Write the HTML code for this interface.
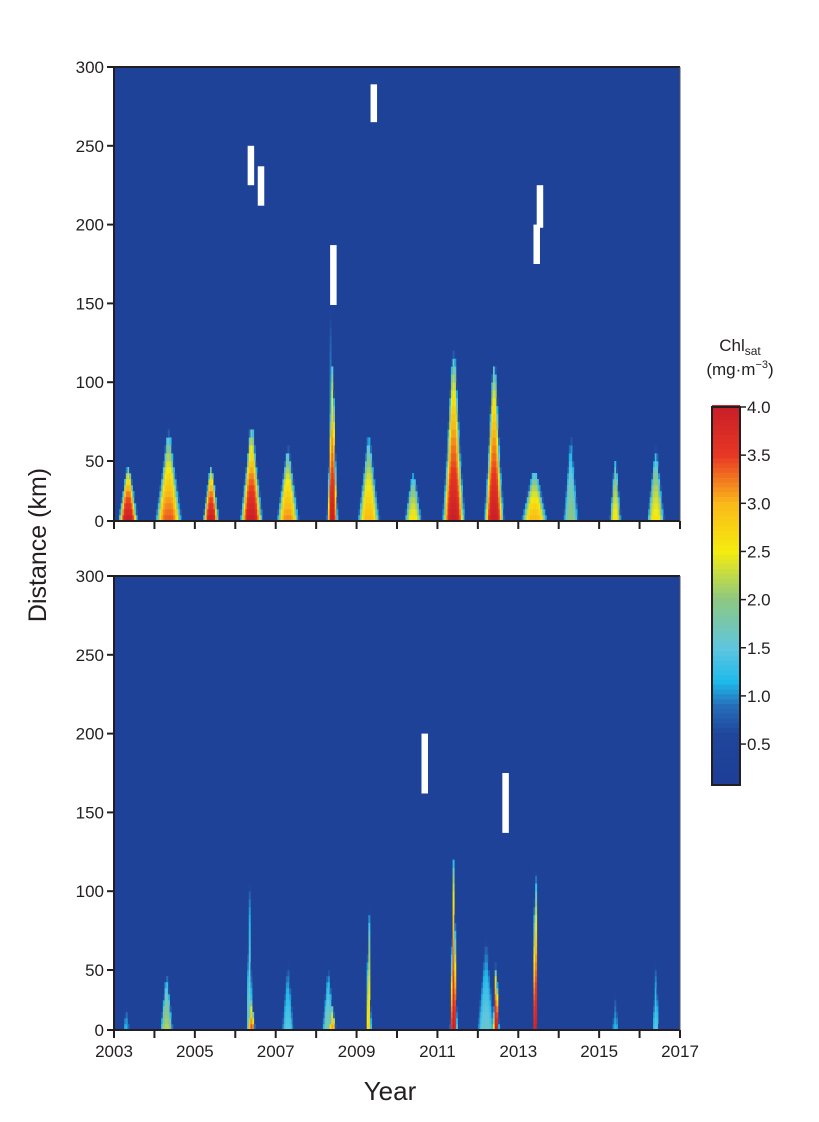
<!DOCTYPE html>
<html><head><meta charset="utf-8"><style>
body{margin:0;background:#fff;width:819px;height:1117px;overflow:hidden}
svg text{font-family:"Liberation Sans",sans-serif;fill:#231f20}
</style></head><body>
<svg id="s" width="819" height="1117"></svg>
<script>
const years=[2003,2005,2007,2009,2011,2013,2015,2017];
const distTicks=[0,50,100,150,200,250,300];
const cbTicks=[0.5,1.0,1.5,2.0,2.5,3.0,3.5,4.0];
// events: center year, max distance km, peak chl, half-width years
const topYear=[2003.35,2004.35,2005.4,2006.4,2007.3,2008.4,2008.35,2009.3,2010.4,2011.4,2012.4,2013.4,2014.3,2015.4,2016.4];
const topDist=[45,68,45,72,58,112,150,65,40,118,112,42,65,52,58];
const topPeak=[4,3.4,4,4,3.2,4,1.4,3,2.6,4,4,3,2,2.6,2.6];
const topWidth=[0.22,0.3,0.18,0.25,0.25,0.12,0.05,0.25,0.2,0.25,0.22,0.3,0.18,0.13,0.2];
const botYear=[2003.3,2004.3,2006.35,2006.4,2007.3,2008.3,2008.4,2009.3,2011.4,2012.2,2012.45,2013.42,2015.4,2016.4];
const botDist=[20,45,105,25,55,50,20,95,120,70,55,140,30,55];
const botPeak=[1.2,2.2,1.8,3.5,1.5,1.8,3.2,2.8,4,1.6,4,4,1.2,1.5];
const botWidth=[0.08,0.15,0.08,0.08,0.15,0.15,0.08,0.06,0.08,0.22,0.07,0.05,0.08,0.08];
// missing-data gaps: year, low km, high km
const topGapYear=[2006.38,2006.63,2009.42,2008.42,2013.45,2013.53];
const topGapLo=[225,212,265,149,175,198];
const topGapHi=[250,237,289,187,200,225];
const botGapYear=[2010.68,2012.68];
const botGapHi=[200,175];
const botGapLo=[162,137];

const NS="http://www.w3.org/2000/svg",svg=document.getElementById('s');
function el(t,a,p){const e=document.createElementNS(NS,t);for(const k in a)e.setAttribute(k,a[k]);(p||svg).appendChild(e);return e;}
const X0=114,X1=680;
const x=y=>X0+(y-2003)*(X1-X0)/14;
function yS(top){const b=top+454;return d=>d<50?b-d*1.2:b-60-(d-50)*394/250;}
const cmap=[[0,[30,60,150]],[0.6,[31,70,155]],[0.9,[38,110,185]],[1.15,[30,185,235]],[1.5,[95,198,222]],[2.0,[140,200,130]],[2.5,[245,235,15]],[3.0,[250,185,25]],[3.5,[232,55,37]],[4.0,[200,30,40]]];
function col(v){v=Math.max(0,Math.min(4,v));for(let i=1;i<cmap.length;i++){if(v<=cmap[i][0]){const a=cmap[i-1],b=cmap[i],f=(v-a[0])/(b[0]-a[0]);return 'rgb('+a[1].map((c,j)=>Math.round(c+(b[1][j]-c)*f)).join(',')+')';}}return 'rgb(200,30,40)';}
function panel(top,ys,ds,ps,ws,gy,glo,ghi,name,labels){
  const Y=yS(top);const g=el('g',{});
  el('rect',{x:X0,y:top,width:X1-X0,height:454,fill:col(0.35)},g);
  const dt=1/24,dd=5;
  for(let t=2003;t<2017-1e-9;t+=dt){for(let d=0;d<300;d+=dd){
    const tc=t+dt/2,dc=d+dd/2;let v=0.3;
    for(let i=0;i<ys.length;i++){const f=1-dc/ds[i];if(f<=0)continue;const w=ws[i]*(0.15+0.85*f);const u=(tc-ys[i])/w;const val=ps[i]*Math.pow(f,0.3)*Math.exp(-u*u*u*u);if(val>v)v=val;}
    if(v>0.45){const r=el('rect',{x:x(t).toFixed(2),y:Y(d+dd).toFixed(2),width:(x(t+dt)-x(t)+0.3).toFixed(2),height:(Y(d)-Y(d+dd)+0.3).toFixed(2),fill:col(v)},g);
    
    }
  }}
  for(let i=0;i<gy.length;i++){const r=el('rect',{x:x(gy[i])-3,y:Y(ghi[i]),width:6.5,height:Y(glo[i])-Y(ghi[i]),fill:'#fff'},g);
    
    }
  el('line',{x1:X0,y1:top,x2:X1,y2:top,stroke:'#231f20','stroke-width':2},g);
  el('line',{x1:X0,y1:top,x2:X0,y2:top+455,stroke:'#231f20','stroke-width':2},g);
  el('line',{x1:X0,y1:top+454,x2:X1,y2:top+454,stroke:'#231f20','stroke-width':2},g);
  el('line',{x1:X1,y1:top,x2:X1,y2:top+454,stroke:'#555','stroke-width':1},g);
  for(const d of distTicks){el('line',{x1:X0-7,y1:Y(d),x2:X0,y2:Y(d),stroke:'#231f20','stroke-width':2},g);
    const t=el('text',{x:X0-10,y:Y(d)+6,'text-anchor':'end','font-size':17},g);t.textContent=d;
    }
  for(let yr=2003;yr<=2017;yr++){el('line',{x1:x(yr),y1:top+454,x2:x(yr),y2:top+462,stroke:'#231f20','stroke-width':2},g);}
  if(labels)for(const yr of years){const t=el('text',{x:x(yr),y:top+481,'text-anchor':'middle','font-size':17},g);t.textContent=yr;
    }
}
panel(67,topYear,topDist,topPeak,topWidth,topGapYear,topGapLo,topGapHi,'top-heatmap',false);
panel(576,botYear,botDist,botPeak,botWidth,botGapYear,botGapLo,botGapHi,'bottom-heatmap',true);
// colorbar
const cb=el('g',{});
const cy=v=>407+(4-v)*96.3;
el('rect',{x:712,y:407,width:28,height:378,fill:col(0.2)},cb);
for(let v=0.07;v<4;v+=0.05){el('rect',{x:712,y:cy(v+0.05),width:28,height:96.3*0.05+0.4,fill:col(v+0.025)},cb);}
el('rect',{x:712,y:407,width:28,height:785-407,fill:'none',stroke:'#231f20','stroke-width':2},cb);
for(const v of cbTicks){el('line',{x1:740,y1:cy(v),x2:746,y2:cy(v),stroke:'#231f20','stroke-width':1.5},cb);
  const t=el('text',{x:747,y:cy(v)+6,'font-size':17},cb);t.textContent=v.toFixed(1);
  }
const ct=el('text',{x:740,y:351,'text-anchor':'middle','font-size':17,});
ct.innerHTML='Chl<tspan font-size="12" dy="4">sat</tspan>';
const cu=el('text',{x:740,y:375,'text-anchor':'middle','font-size':17,});
cu.innerHTML='(mg·m<tspan font-size="11" dy="-7">−3</tspan><tspan dy="7">)</tspan>';
const yl=el('text',{x:0,y:0,transform:'translate(46,545) rotate(-90)','text-anchor':'middle','font-size':25,});yl.textContent='Distance (km)';
const xl=el('text',{x:390,y:1100,'text-anchor':'middle','font-size':26,});xl.textContent='Year';
</script></body></html>
